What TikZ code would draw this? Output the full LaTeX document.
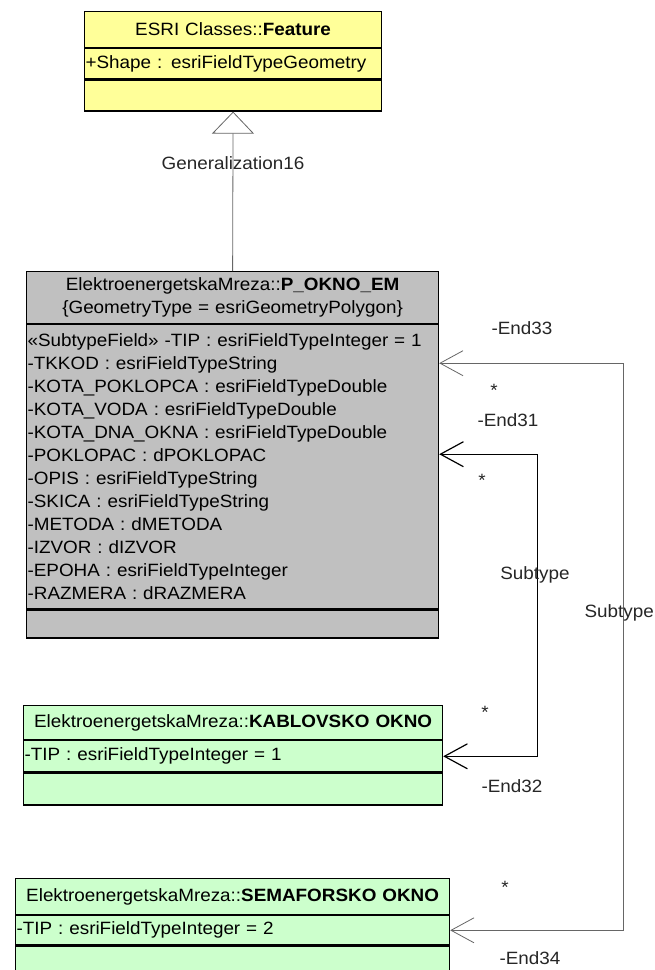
\documentclass[tikz,border=0pt]{standalone}
\usepackage{fontspec}
\setmainfont{Liberation Sans}[FakeStretch=1.06]
\usetikzlibrary{positioning,arrows.meta}
\definecolor{featyellow}{RGB}{255,255,153}
\definecolor{okgray}{RGB}{192,192,192}
\definecolor{okgreen}{RGB}{204,255,204}

\begin{document}
\begin{tikzpicture}[x=1pt,y=-1pt,
  every node/.style={font=\fontsize{17.8}{23}\selectfont, inner sep=0pt},
  classpart/.style={draw, line width=1.2pt, inner xsep=1pt, align=center},
  featpart/.style={classpart, fill=featyellow, text width=295},
  pokpart/.style={classpart, fill=okgray, text width=410},
  kabpart/.style={classpart, fill=okgreen, text width=417},
  sempart/.style={classpart, fill=okgreen, text width=432},
  gen/.style={draw=gray!80!black, line width=0.8pt, -{Triangle[open,length=22,width=42,fill=white]}},
  subline/.style={line width=#1, {Straight Barb[length=23,width=25]}-{Straight Barb[length=23,width=25]}},
  lbl/.style={text=black!85}]
  \useasboundingbox (0,0) rectangle (655,970);

  % ESRI Classes::Feature
  \node[featpart, minimum height=36, anchor=north west] (feathead) at (84,11) {ESRI Classes::\textbf{Feature}};
  \node[featpart, minimum height=30, below=0pt of feathead, align=left] (featattr) {+Shape : esriFieldTypeGeometry};
  \node[featpart, minimum height=31, below=0pt of featattr] (featops) {};

  % P_OKNO_EM
  \node[pokpart, minimum height=52, anchor=north west] (pokhead) at (26,271)
    {ElektroenergetskaMreza::\textbf{P\_OKNO\_EM}\\\{GeometryType = esriGeometryPolygon\}};
  \node[pokpart, minimum height=284, below=0pt of pokhead, align=left] (pokattr)
    {«SubtypeField» -TIP : esriFieldTypeInteger = 1\\
     -TKKOD : esriFieldTypeString\\
     -KOTA\_POKLOPCA : esriFieldTypeDouble\\
     -KOTA\_VODA : esriFieldTypeDouble\\
     -KOTA\_DNA\_OKNA : esriFieldTypeDouble\\
     -POKLOPAC : dPOKLOPAC\\
     -OPIS : esriFieldTypeString\\
     -SKICA : esriFieldTypeString\\
     -METODA : dMETODA\\
     -IZVOR : dIZVOR\\
     -EPOHA : esriFieldTypeInteger\\
     -RAZMERA : dRAZMERA};
  \node[pokpart, minimum height=28, below=0pt of pokattr] (pokops) {};

  % KABLOVSKO OKNO
  \node[kabpart, minimum height=34, anchor=north west] (kabhead) at (23,705) {ElektroenergetskaMreza::\textbf{KABLOVSKO OKNO}};
  \node[kabpart, minimum height=31, below=0pt of kabhead, align=left] (kabattr) {-TIP : esriFieldTypeInteger = 1};
  \node[kabpart, minimum height=32, below=0pt of kabattr] (kabops) {};

  % SEMAFORSKO OKNO
  \node[sempart, minimum height=36, anchor=north west] (semhead) at (15,878) {ElektroenergetskaMreza::\textbf{SEMAFORSKO OKNO}};
  \node[sempart, minimum height=29, below=0pt of semhead, align=left] (semattr) {-TIP : esriFieldTypeInteger = 2};
  \node[sempart, minimum height=34, below=0pt of semattr] (semops) {};

  % connectors
  \draw[gen] (pokhead.north) -- (featops.south);
  \node[lbl] (genlbl) at (233,163) {Generalization16};

  \draw[subline=1.2pt] ([yshift=-130pt]pokattr.north east) -- ++(98,0) |- (kabattr.east);
  \draw[subline=0.8pt, gray!80!black] ([yshift=-39pt]pokattr.north east) -- ++(184,0) |- (semattr.east);

  \path (522,328) node[lbl] (end33) {-End33}
        (494,390) node[lbl] (mult33) {*}
        (508,420) node[lbl] (end31) {-End31}
        (482,480) node[lbl] (mult31) {*}
        (535,575) node[lbl] (subtype1) {Subtype}
        (654,613) node[lbl, anchor=east] (subtype2) {Subtype}
        (485,712) node[lbl] (mult32) {*}
        (512,786) node[lbl] (end32) {-End32}
        (505,887) node[lbl] (mult34) {*}
        (530,958) node[lbl] (end34) {-End34};
\end{tikzpicture}
\end{document}
